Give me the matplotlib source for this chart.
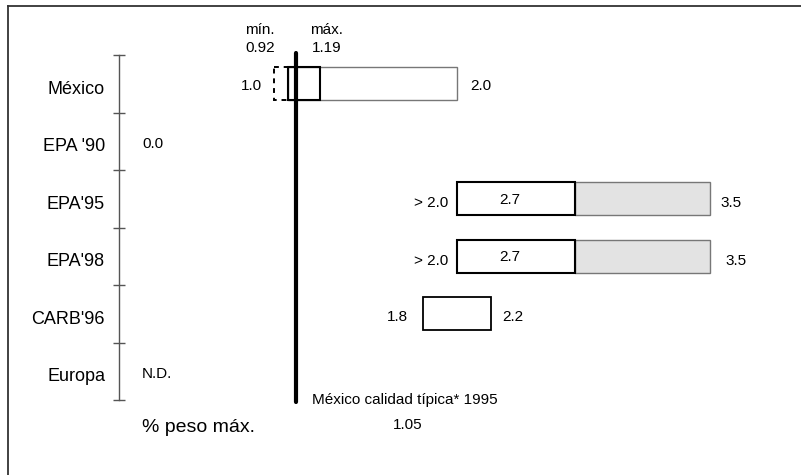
import matplotlib
matplotlib.use("Agg")
import matplotlib.pyplot as plt
from matplotlib.patches import Rectangle
from matplotlib.lines import Line2D

plt.rcParams['font.family'] = ['Liberation Sans', 'DejaVu Sans']

# datos
categorias = ["México", "EPA '90", "EPA'95", "EPA'98", "CARB'96", "Europa"]
mex_min = 0.92
mex_max = 1.19
mex_lo = 1.0
mex_hi = 2.0
tipica = 1.05
epa_lo = [2.0, 2.0]
epa_mid = [2.7, 2.7]
epa_hi = [3.5, 3.5]
carb_lo = 1.8
carb_hi = 2.2
epa90 = 0.0

W, H = 801, 475
fig = plt.figure(figsize=(W / 100, H / 100), dpi=100)
ax = fig.add_axes([119 / W, 1 - 400 / H, 676 / W, 345 / H])
ax.set_xlim(0, 4)
ax.set_ylim(5.5, -0.5)


def py(p):
    # pixel vertical -> dato
    return -0.5 + (p - 55) / 57.5


fs = 11
for s in ['top', 'right', 'bottom']:
    ax.spines[s].set_visible(False)
ax.spines['left'].set_color('#555555')
ax.spines['left'].set_linewidth(1.0)
ax.set_xticks([])
ax.set_yticks([i + 0.06 for i in range(len(categorias))])
ax.set_yticklabels(categorias, fontsize=13)
ax.tick_params(axis='y', which='major', length=0, pad=10)
ax.set_yticks([i - 0.5 for i in range(len(categorias) + 1)], minor=True)
ax.tick_params(axis='y', which='minor', direction='inout', length=9, width=1.0, color='#555555')

h = 0.58

# México
ax.add_patch(Rectangle((mex_lo, -h / 2), mex_hi - mex_lo, h, facecolor='white', edgecolor='#777777', lw=1.0, zorder=2))
ax.add_patch(Rectangle((mex_min, -h / 2), mex_lo - mex_min, h, facecolor='none', edgecolor='black', lw=1.4, ls=(0, (2.5, 2.5)), zorder=3))
ax.add_patch(Rectangle((mex_lo, -h / 2), mex_max - mex_lo, h, facecolor='none', edgecolor='black', lw=1.5, zorder=4))
ax.text(0.846, 0.04, f"{mex_lo:.1f}", ha='right', va='center', fontsize=fs)
ax.text(2.077, 0.04, f"{mex_hi:.1f}", ha='left', va='center', fontsize=fs)
ax.text(0.834, py(30), "mín.", ha='center', va='center', fontsize=fs, clip_on=False)
ax.text(0.834, py(48), f"{mex_min:.2f}", ha='center', va='center', fontsize=fs, clip_on=False)
ax.text(1.23, py(30), "máx.", ha='center', va='center', fontsize=fs, clip_on=False)
ax.text(1.23, py(48), f"{mex_max:.2f}", ha='center', va='center', fontsize=fs, clip_on=False)

# EPA '90
ax.text(0.136, 1.04, f"{epa90:.1f}", ha='left', va='center', fontsize=fs)

# EPA'95, EPA'98
for k, yy in enumerate([2, 3]):
    ax.add_patch(Rectangle((epa_mid[k], yy - h / 2), epa_hi[k] - epa_mid[k], h, facecolor='#e3e3e3', edgecolor='#777777', lw=1.0, zorder=2))
    ax.add_patch(Rectangle((epa_lo[k], yy - h / 2), epa_mid[k] - epa_lo[k], h, facecolor='white', edgecolor='black', lw=1.5, zorder=3))
    ax.text(1.947, yy + 0.08, f"> {epa_lo[k]:.1f}", ha='right', va='center', fontsize=fs)
    ax.text(2.314, yy + 0.02, f"{epa_mid[k]:.1f}", ha='center', va='center', fontsize=fs, zorder=4)
    ax.text(3.556 + 0.03 * k, yy + 0.08, f"{epa_hi[k]:.1f}", ha='left', va='center', fontsize=fs)

# CARB'96
ax.add_patch(Rectangle((carb_lo, 4 - h / 2), carb_hi - carb_lo, h, facecolor='white', edgecolor='black', lw=1.3, zorder=2))
ax.text(1.71, 4 + 0.06, f"{carb_lo:.1f}", ha='right', va='center', fontsize=fs)
ax.text(2.266, 4 + 0.06, f"{carb_hi:.1f}", ha='left', va='center', fontsize=fs)

# Europa
ax.text(0.136, 5.04, "N.D.", ha='left', va='center', fontsize=fs)

# calidad típica
ax.plot([tipica, tipica], [py(53), py(402)], color='black', lw=3.0, solid_capstyle='round', zorder=5, clip_on=False)
ax.text(1.14, py(400), "México calidad típica* 1995", ha='left', va='center', fontsize=fs, clip_on=False)
ax.text(1.71, py(425), f"{tipica:.2f}", ha='center', va='center', fontsize=fs, clip_on=False)

ax.text(0.136, py(427), "% peso máx.", ha='left', va='center', fontsize=14, clip_on=False)

# marco
fig.add_artist(Line2D([8 / W, 8 / W], [0, 1 - 6 / H], transform=fig.transFigure, color='#333333', lw=1.3))
fig.add_artist(Line2D([8 / W, 1], [1 - 6 / H, 1 - 6 / H], transform=fig.transFigure, color='#333333', lw=1.3))

fig.savefig("out.png", dpi=100)
